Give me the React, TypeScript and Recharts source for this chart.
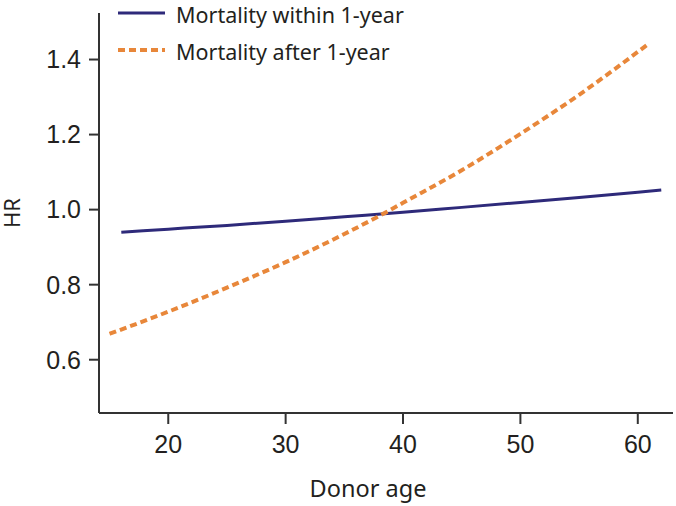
import { Line, LineChart, XAxis, YAxis } from "recharts"

// donor age -> HR
const withinAges = [16, 20, 25, 30, 35, 40, 45, 50, 55, 60, 62]
const withinHR = [0.94, 0.948, 0.958, 0.969, 0.981, 0.993, 1.006, 1.019, 1.032, 1.046, 1.052]

const afterAges = [15, 20, 25, 30, 35, 38.5, 40, 45, 50, 55, 61]
const afterHR = [0.669, 0.728, 0.792, 0.86, 0.935, 0.992, 1.018, 1.105, 1.202, 1.306, 1.444]

const xTicks = [20, 30, 40, 50, 60]
const yTicks = [0.6, 0.8, 1.0, 1.2, 1.4]

const seriesNames = ["Mortality within 1-year", "Mortality after 1-year"]
const colors = ["#2e2a7a", "#e8873a"]

const withinData = withinAges.map((age, i) => ({ age, hr: withinHR[i] }))
const afterData = afterAges.map((age, i) => ({ age, hr: afterHR[i] }))

const tickFont = "'Liberation Sans', Arial, sans-serif"
const tickStyle = { fontFamily: tickFont, fontSize: 25, fill: "#231f20" }
const titleFont = "'Noto Sans', sans-serif"

// legend sits inside the plot, top left
function LegendBox() {
    return (
        <svg width={330} height={70} style={{ position: "absolute", left: 118, top: 0 }}>
            <line x1={0} y1={13} x2={47} y2={13} stroke={colors[0]} strokeWidth={3} />
            <text x={58} y={14} dominantBaseline="central" fontFamily={titleFont} fontSize={21.5} fill="#231f20">
                {seriesNames[0]}
            </text>
            <line x1={0} y1={50} x2={47} y2={50} stroke={colors[1]} strokeWidth={4} strokeDasharray="7 4" />
            <text x={58} y={51} dominantBaseline="central" fontFamily={titleFont} fontSize={21.5} fill="#231f20">
                {seriesNames[1]}
            </text>
        </svg>
    )
}

export default function App() {
    return (
        <div style={{ position: "absolute", left: 0, top: 0, width: 676, height: 506 }}>
            <LineChart width={676} height={506} margin={{ top: 13, right: 3, bottom: 9, left: 0 }}>
                <XAxis
                    type="number"
                    dataKey="age"
                    domain={[14.1, 63]}
                    ticks={xTicks}
                    allowDataOverflow
                    height={84}
                    tickSize={11}
                    tickMargin={11}
                    fontSize={25}
                    fontFamily={tickFont}
                    tick={tickStyle}
                    stroke="#333"
                    strokeWidth={2}
                    label={{
                        value: "Donor age",
                        position: "insideBottom",
                        offset: 0,
                        dx: -18,
                        fontSize: 23.5,
                        fontFamily: titleFont,
                        fill: "#231f20",
                    }}
                />
                <YAxis
                    type="number"
                    domain={[0.458, 1.524]}
                    ticks={yTicks}
                    allowDataOverflow
                    width={99}
                    tickSize={10}
                    tickMargin={8}
                    fontSize={25}
                    fontFamily={tickFont}
                    tick={tickStyle}
                    tickFormatter={(v) => v.toFixed(1)}
                    stroke="#333"
                    strokeWidth={2}
                    label={{
                        value: "HR",
                        angle: -90,
                        position: "center",
                        dx: -37,
                        fontSize: 22,
                        fontFamily: titleFont,
                        fill: "#231f20",
                    }}
                />
                <Line
                    data={withinData}
                    dataKey="hr"
                    name={seriesNames[0]}
                    type="monotone"
                    stroke={colors[0]}
                    strokeWidth={3}
                    dot={false}
                    isAnimationActive={false}
                />
                <Line
                    data={afterData}
                    dataKey="hr"
                    name={seriesNames[1]}
                    type="monotone"
                    stroke={colors[1]}
                    strokeWidth={4}
                    strokeDasharray="7 4"
                    dot={false}
                    isAnimationActive={false}
                />
            </LineChart>
            <LegendBox />
        </div>
    )
}
